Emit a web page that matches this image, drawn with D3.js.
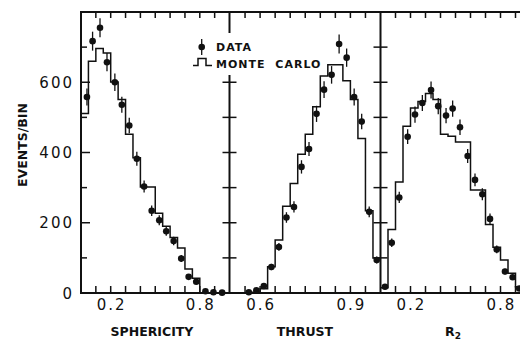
<!DOCTYPE html>
<html><head><meta charset="utf-8">
<script src="https://cdn.jsdelivr.net/npm/d3@7"></script>
<style>
body{margin:0;background:#fff}
svg{display:block}
.tl{font-family:"DejaVu Sans",sans-serif;font-size:15px;letter-spacing:2px;fill:#111}
.tt{font-family:"DejaVu Sans",sans-serif;font-weight:bold;font-size:12.5px;fill:#111}
.lg{font-family:"DejaVu Sans",sans-serif;font-weight:bold;font-size:11px;letter-spacing:1px;fill:#111}
</style>
</head><body>
<svg id="c" width="520" height="339"></svg>
<script>
// ---------- data ----------
// Sphericity panel
const sphX    = [0.04,0.078,0.128,0.175,0.228,0.275,0.325,0.376,0.425,0.476,0.527,0.574,0.624,0.675,0.725,0.776,0.838,0.892,0.95];
const sphData = [558,717,755,657,600,536,477,382,303,234,207,176,148,98,46,32,5,2,1];
const sphErr  = [24,27,27,26,25,23,22,20,17,15,14,13,12,10,7,6,2,1,1];
const sphEdges= [0,0.05,0.1,0.15,0.2,0.25,0.3,0.35,0.4,0.45,0.5,0.55,0.6,0.65,0.7,0.75,0.8,0.85,0.9,0.95,1.0];
const sphMC   = [511,660,696,683,601,551,452,385,302,302,227,190,158,128,68,42,0,0,0,0];
// Thrust panel
const thrX    = [0.5625,0.5875,0.6125,0.6375,0.6625,0.6875,0.7125,0.7375,0.7625,0.7875,0.8125,0.8375,0.8625,0.8875,0.9125,0.9375,0.9625,0.9875];
const thrData = [2,8,20,74,131,215,245,359,410,510,579,621,709,670,558,488,231,94];
const thrErr  = [1,3,4,9,11,15,16,19,20,23,24,25,27,26,24,22,15,10];
const thrEdges= [0.5,0.525,0.55,0.575,0.6,0.625,0.65,0.675,0.7,0.725,0.75,0.775,0.8,0.825,0.85,0.875,0.9,0.925,0.95,0.975,1.0];
const thrMC   = [0,0,0,2,12,75,151,247,312,395,452,530,618,650,650,604,551,440,234,100];
// R2 panel
const r2X     = [0.03,0.075,0.125,0.181,0.23,0.279,0.337,0.385,0.437,0.481,0.53,0.581,0.63,0.679,0.73,0.775,0.83,0.881,0.925];
const r2Data  = [18,143,272,445,508,541,578,532,505,525,472,390,322,281,211,124,61,45,13];
const r2Err   = [4,12,16,21,23,23,24,23,22,23,22,20,18,17,15,11,8,7,4];
const r2Edges = [0,0.05,0.1,0.15,0.2,0.25,0.3,0.35,0.4,0.45,0.5,0.55,0.6,0.65,0.7,0.75,0.8,0.85,0.9,0.95,1.0];
const r2MC    = [15,181,316,475,527,545,568,551,452,446,430,430,293,293,195,130,94,56,18,0];
// ticks & labels
const yTicks      = [100,200,300,400,500,600,700];
const yTickLabels = [0,200,400,600];
const sphTicks = [0.1,0.2,0.3,0.4,0.5,0.6,0.7,0.8,0.9];
const sphLabels= [0.2,0.8];
const thrTicks = [0.55,0.6,0.65,0.7,0.75,0.8,0.85,0.9,0.95];
const thrLabels= [0.6,0.9];
const r2Ticks  = [0.1,0.2,0.3,0.4,0.5,0.6,0.7,0.8,0.9];
const r2Labels = [0.2,0.8];

// ---------- layout ----------
const ink = "#111";
const svg = d3.select("#c");
const y = d3.scaleLinear().domain([0,800]).range([293,12]);
const x1 = d3.scaleLinear().domain([0,1]).range([81,229.5]);
const x2 = d3.scaleLinear().domain([0.5,1.0]).range([230,380.5]);
const x3 = d3.scaleLinear().domain([0,1]).range([380.5,530.5]);
const fTop = 12, fBot = 293, fLeft = 81, fRight = 520;

// frame
const fr = svg.append("g").attr("stroke",ink).attr("stroke-width",2).attr("fill","none");
fr.append("line").attr("x1",fLeft).attr("x2",fRight).attr("y1",fTop).attr("y2",fTop);
fr.append("line").attr("x1",fLeft).attr("x2",fRight).attr("y1",fBot).attr("y2",fBot);
fr.append("line").attr("x1",fLeft).attr("x2",fLeft).attr("y1",fTop-1).attr("y2",fBot+1);
// dividers
fr.append("line").attr("x1",x1(1)).attr("x2",x1(1)).attr("y1",fTop).attr("y2",33);
fr.append("line").attr("x1",x1(1)).attr("x2",x1(1)).attr("y1",75).attr("y2",fBot);
fr.append("line").attr("x1",x2(1)).attr("x2",x2(1)).attr("y1",fTop).attr("y2",fBot);

// left ticks (inward)
const tk = svg.append("g").attr("stroke",ink).attr("stroke-width",1.5);
yTicks.forEach(v=>{
  const len = (v%200===0)?9:6;
  tk.append("line").attr("x1",fLeft).attr("x2",fLeft+len).attr("y1",y(v)).attr("y2",y(v));
});
// divider crosses
yTicks.forEach(v=>{
  if (v<=600) tk.append("line").attr("x1",x1(1)-7).attr("x2",x1(1)+7).attr("y1",y(v)).attr("y2",y(v));
  tk.append("line").attr("x1",x2(1)-7).attr("x2",x2(1)+7).attr("y1",y(v)).attr("y2",y(v));
});
// top & bottom ticks
[[x1,sphTicks],[x2,thrTicks],[x3,r2Ticks]].forEach(([sx,ts])=>{
  ts.forEach(t=>{
    tk.append("line").attr("x1",sx(t)).attr("x2",sx(t)).attr("y1",fTop).attr("y2",fTop+6);
    tk.append("line").attr("x1",sx(t)).attr("x2",sx(t)).attr("y1",fBot).attr("y2",fBot-7);
  });
});

// y tick labels
svg.append("g").selectAll("text").data(yTickLabels).join("text")
  .attr("class","tl").attr("text-anchor","end")
  .attr("x",74).attr("y",d=>y(d)+5.5).text(d=>d);
// x tick labels
[[x1,sphLabels],[x2,thrLabels],[x3,r2Labels]].forEach(([sx,ls])=>{
  svg.append("g").selectAll("text").data(ls).join("text")
    .attr("class","tl").attr("text-anchor","middle")
    .attr("x",d=>sx(d)+1).attr("y",310).text(d=>d.toFixed(1));
});

// axis titles
svg.append("text").attr("class","tt").attr("text-anchor","middle")
  .attr("x",152).attr("y",336).text("SPHERICITY");
svg.append("text").attr("class","tt").attr("text-anchor","middle")
  .attr("x",305).attr("y",336).text("THRUST");
const r2t = svg.append("text").attr("class","tt").attr("x",445).attr("y",336);
r2t.append("tspan").text("R");
r2t.append("tspan").attr("font-size","9px").attr("dy",2.5).text("2");
svg.append("text").attr("class","tt").attr("text-anchor","middle")
  .attr("transform","translate(27,145) rotate(-90)").text("EVENTS/BIN");

// histograms (Monte Carlo)
function hist(sx, edges, vals){
  const p = vals.map((v,i)=>[edges[i],v]);
  p.push([edges[edges.length-1], vals[vals.length-1]]);
  const line = d3.line().x(d=>sx(d[0])).y(d=>y(d[1])).curve(d3.curveStepAfter);
  svg.append("path").attr("d",line(p)).attr("fill","none")
    .attr("stroke",ink).attr("stroke-width",1.5);
}
hist(x1, sphEdges, sphMC);
hist(x2, thrEdges, thrMC);
hist(x3, r2Edges, r2MC);

// data points with error bars
function pts(sx, xs, ys, es){
  const g = svg.append("g");
  xs.forEach((xv,i)=>{
    g.append("line").attr("x1",sx(xv)).attr("x2",sx(xv))
      .attr("y1",y(ys[i]+es[i])).attr("y2",y(Math.max(0,ys[i]-es[i])))
      .attr("stroke",ink).attr("stroke-width",1.3);
    g.append("circle").attr("cx",sx(xv)).attr("cy",y(ys[i])).attr("r",3.3).attr("fill",ink);
  });
}
pts(x1, sphX, sphData, sphErr);
pts(x2, thrX, thrData, thrErr);
pts(x3, r2X, r2Data, r2Err);

// legend
const lg = svg.append("g");
lg.append("line").attr("x1",201.7).attr("x2",201.7).attr("y1",39).attr("y2",55)
  .attr("stroke",ink).attr("stroke-width",1.3);
lg.append("circle").attr("cx",201.7).attr("cy",47).attr("r",3.3).attr("fill",ink);
lg.append("text").attr("class","lg").attr("x",216).attr("y",51).text("DATA");
lg.append("path").attr("d","M193,65.5H198V58.5H206V65.5H212").attr("fill","none")
  .attr("stroke",ink).attr("stroke-width",1.5);
lg.append("text").attr("class","lg").attr("x",216).attr("y",67.5)
  .attr("word-spacing","5px").text("MONTE CARLO");
</script>
</body></html>
